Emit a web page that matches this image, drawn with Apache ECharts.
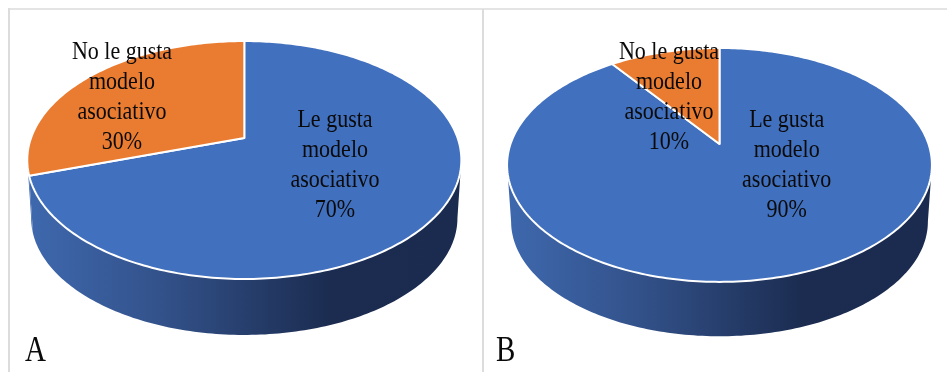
<!DOCTYPE html>
<html>
<head>
<meta charset="utf-8">
<style>
  html, body { margin: 0; padding: 0; background: #ffffff; }
  #chart { width: 947px; height: 372px; }
</style>
<script src="https://cdn.jsdelivr.net/npm/echarts@6/dist/echarts.min.js"></script>
</head>
<body>
<div id="chart"></div>
<script>
// Survey answers: share of respondents per panel, in percent
const categories = ['Le gusta\nmodelo\nasociativo', 'No le gusta\nmodelo\nasociativo'];
const sharesA = [70, 30];
const sharesB = [90, 10];
const panelLetters = ['A', 'B'];

const faceColors = ['#4170BE', '#EA7C31'];
const rimStops = [
  { offset: 0, color: '#3E68AD' },
  { offset: 0.3, color: '#33528B' },
  { offset: 0.7, color: '#1B2C50' },
  { offset: 1, color: '#1A2B4F' }
];
const SERIF = '"Liberation Serif", "Times New Roman", serif';
const TEXT_STRETCH = 1.17;

// Perspective disc: cx/apexY locate the pie's pivot, width/height/tilt shape the
// projection of the unit circle, drop/shrink place the lower rim of the cylinder.
const layouts = [
  { cx: 244.3, apexY: 138, width: 213.3, height: 114.9, tilt: 0.185, drop: 58.5, shrink: 0.982,
    labels: [[335, 165.6], [122, 97.6]] },
  { cx: 719.5, apexY: 144, width: 209, height: 113.2, tilt: 0.179, drop: 57, shrink: 0.981,
    labels: [[786.7, 165.6], [669, 97.6]] }
];

// Angles run clockwise from twelve o'clock.
function project(g, deg, lower) {
  const t = deg * Math.PI / 180;
  const u = Math.sin(t), v = Math.cos(t);
  const d = 1 + g.tilt * v;
  const s = lower ? g.shrink : 1;
  const y0 = lower ? g.apexY + g.drop : g.apexY;
  return [g.cx + s * g.width * u / d, y0 - s * g.height * v / d];
}

function arc(g, from, to, lower) {
  const pts = [];
  const n = Math.max(2, Math.ceil(Math.abs(to - from)));
  for (let i = 0; i <= n; i++) pts.push(project(g, from + (to - from) * i / n, lower));
  return pts;
}

function pieRenderer(shares, g) {
  const total = shares.reduce((a, b) => a + b, 0);
  // The wall's outline leaves the disc where the projected circle is widest
  const silhouette = Math.acos(-g.tilt) * 180 / Math.PI;
  return function (params, api) {
    const i = params.dataIndex;
    const value = api.value(0);
    const before = shares.slice(0, i).reduce((a, b) => a + b, 0);
    const start = before / total * 360;
    const end = (before + value) / total * 360;
    const children = [];

    const wallFrom = Math.max(start, silhouette);
    const wallTo = Math.min(end, 360 - silhouette);
    if (wallTo > wallFrom) {
      const points = arc(g, wallFrom, wallTo, false).concat(arc(g, wallTo, wallFrom, true));
      children.push({
        type: 'polygon', z2: 1,
        shape: { points },
        style: {
          fill: {
            type: 'linear', global: true,
            x: g.cx - g.width, y: 0, x2: g.cx + g.width, y2: 0,
            colorStops: rimStops
          }
        }
      });
    }

    children.push({
      type: 'polygon', z2: 2,
      shape: { points: [[g.cx, g.apexY]].concat(arc(g, start, end, false)) },
      style: { fill: faceColors[i], stroke: '#ffffff', lineWidth: 2, lineJoin: 'round' }
    });

    children.push({
      type: 'text', z2: 3,
      x: g.labels[i][0], y: g.labels[i][1],
      scaleY: TEXT_STRETCH,
      style: {
        x: 0, y: 0,
        text: categories[i] + '\n' + value + '%',
        align: 'center', verticalAlign: 'middle',
        font: '22px ' + SERIF, lineHeight: 30 / TEXT_STRETCH, fill: '#0A0A0A'
      }
    });
    return { type: 'group', children };
  };
}

function pieSeries(shares, g) {
  return {
    type: 'custom',
    coordinateSystem: 'none',
    silent: true,
    animation: false,
    renderItem: pieRenderer(shares, g),
    data: shares.map((s, i) => ({ name: categories[i], value: [s] }))
  };
}

function panelLetter(text, x) {
  return {
    type: 'text', x, y: 352, scaleY: 1.2,
    style: { x: 0, y: 0, text, font: '29px ' + SERIF, fill: '#0A0A0A', verticalAlign: 'middle' }
  };
}

const frameColor = '#DCDCDC';
const chart = echarts.init(document.getElementById('chart'), null, { renderer: 'canvas' });
chart.setOption({
  backgroundColor: '#ffffff',
  animation: false,
  graphic: [
    { type: 'rect', shape: { x: 8, y: 8, width: 939, height: 2 }, style: { fill: '#E4E4E4' } },
    { type: 'rect', shape: { x: 8, y: 8, width: 2, height: 364 }, style: { fill: frameColor } },
    { type: 'rect', shape: { x: 482, y: 9, width: 2, height: 363 }, style: { fill: frameColor } },
    panelLetter(panelLetters[0], 25),
    panelLetter(panelLetters[1], 496)
  ],
  series: [pieSeries(sharesA, layouts[0]), pieSeries(sharesB, layouts[1])]
});
</script>
</body>
</html>
